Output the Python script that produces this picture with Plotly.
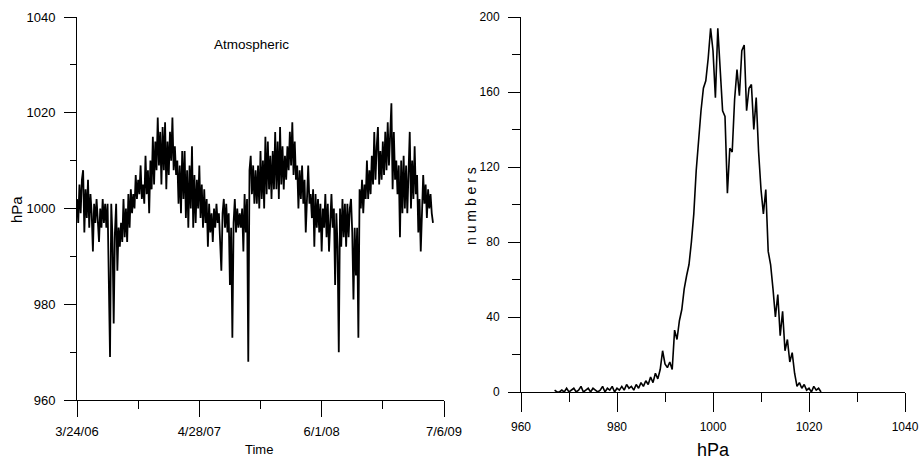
import numpy as np
import pandas as pd
import plotly.graph_objects as go

# ---------------- data ----------------
start_date = "2006-03-24"
step_days = 4

pressure_2006 = [1002, 997, 1005, 999, 1006, 1008, 995, 1004, 998, 1006, 996,
                 1003, 999, 991, 1001, 997, 1002, 998, 993, 1000, 996,
                 1002, 997, 1001, 996, 1001, 988, 969, 1001, 994, 976, 995, 1001, 987, 996, 992,
                 997, 993, 1002, 994, 1000, 993, 1003, 996, 1004, 999, 1003, 1000, 1007, 1002, 1006,
                 1003, 1009, 1002, 1005, 1001, 1011, 1003, 1008, 999, 1010, 1004, 1015, 1005, 1014, 1008,
                 1019, 1009, 1016, 1005, 1017, 1008, 1018, 1004, 1014, 1007, 1016, 1010, 1019, 1008, 1013]
pressure_2007 = [1007, 1010, 1001, 1009, 999, 1012, 1002, 1012, 998, 1008, 996, 1009, 1000, 1013, 996,
                 1007, 997, 1006, 1000, 1009, 998, 1005, 996, 1004, 997, 1002, 992, 1001, 995, 999,
                 993, 1000, 996, 1001, 997, 999, 994, 987, 999, 1002, 996, 1001, 995, 999, 984,
                 996, 973, 997, 1002, 995, 1000, 996, 999, 996, 1000, 991, 1003, 995, 1002, 968,
                 1008, 1011, 1003, 1009, 1001, 1008, 1001, 1009, 1000, 1012, 1002, 1010, 1000, 1015, 1003]
pressure_2008 = [1014, 1004, 1011, 1002, 1012, 1004, 1016, 1004, 1014, 1002, 1017, 1005, 1013, 1004, 1011,
                 1006, 1013, 1008, 1016, 1009, 1018, 1007, 1014, 1006, 1009, 1000, 1008, 1002, 1009, 1001,
                 1006, 995, 1005, 1009, 1001, 1003, 998, 1004, 992, 1003, 996, 1002, 995, 1001, 991,
                 1000, 996, 1003, 994, 1001, 991, 999, 1003, 996, 1000, 984, 999, 992, 970, 1000,
                 992, 1002, 994, 1001, 992, 1001, 994, 1000, 1002, 995, 981, 996, 986, 996, 973]
pressure_2009 = [1004, 1000, 1006, 999, 1005, 1002, 1010, 1002, 1008, 1003, 1011, 1005, 1016, 1006, 1013,
                 1017, 1005, 1012, 1006, 1014, 1007, 1016, 1008, 1018, 1009, 1016, 1022, 1004, 1016, 1006,
                 1010, 1003, 1009, 994, 1010, 999, 1011, 1000, 1009, 999, 1008, 1016, 1000, 1010, 1002,
                 1013, 1003, 1007, 995, 1002, 991, 1000, 1007, 1001, 1005, 998, 1004, 1000, 1003, 999, 997]

hist_start = 967.0
hist_step = 0.5
hist_counts = [1, 0, 0, 1, 0, 2, 0, 1, 2, 0, 1, 3, 0, 1, 2, 0, 2, 1, 0, 1,
               3, 0, 2, 1, 3, 0, 2, 1, 3, 1, 4, 2, 3, 1, 4, 2, 5, 3, 6, 4,
               8, 5, 10, 7, 12, 22, 15, 13, 16, 12, 33, 28, 38, 44, 55, 62, 68, 80, 95, 118,
               135, 150, 162, 166, 178, 194, 182, 157, 194, 172, 150, 147, 106, 130, 128, 156,
               172, 158, 182, 185, 150, 162, 164, 140, 157, 128, 108, 95, 108, 75, 68, 55,
               40, 52, 30, 43, 22, 28, 16, 21, 10, 3, 5, 2, 4, 1, 2, 0, 3, 1, 2, 0]

time_tick_vals = ["2006-03-24", "2007-04-28", "2008-06-01", "2009-07-06"]
time_tick_text = ["3/24/06", "4/28/07", "6/1/08", "7/6/09"]
time_minor_vals = ["2006-10-10", "2007-11-14", "2008-12-18"]

# ---------------- build ----------------
pressure = pressure_2006 + pressure_2007 + pressure_2008 + pressure_2009
dates = pd.date_range(start_date, periods=len(pressure), freq=f"{step_days}D")
hist_x = hist_start + hist_step * np.arange(len(hist_counts))

W, H = 919, 462
def px(x):
    return x / W
def py(y):
    return 1 - y / H

fig = go.Figure()
fig.add_trace(go.Scatter(x=dates, y=pressure, mode="lines",
                         line=dict(color="black", width=1.8),
                         xaxis="x", yaxis="y", showlegend=False, hoverinfo="skip"))
fig.add_trace(go.Scatter(x=hist_x, y=hist_counts, mode="lines",
                         line=dict(color="black", width=1.6),
                         xaxis="x2", yaxis="y2", showlegend=False, hoverinfo="skip"))

font_reg = "Liberation Sans, Arial, sans-serif"
font_nar = "Liberation Sans Narrow, Arial Narrow, Liberation Sans, Arial, sans-serif"

common = dict(showgrid=False, zeroline=False, showline=True, linecolor="black",
              linewidth=1, ticks="outside", tickcolor="black", tickwidth=1,
              automargin=False, ticklabeloverflow="allow")

fig.update_layout(
    width=W, height=H,
    margin=dict(l=0, r=0, t=0, b=0, pad=0, autoexpand=False),
    paper_bgcolor="white", plot_bgcolor="white",
    showlegend=False,
    xaxis=dict(domain=[px(77), px(444)], anchor="y", type="date",
               range=[time_tick_vals[0], time_tick_vals[-1]],
               tickmode="array", tickvals=time_tick_vals, ticktext=time_tick_text,
               ticklen=16, ticklabelstandoff=3,
               minor=dict(ticks="outside", tickmode="array", tickvals=time_minor_vals,
                          ticklen=8, tickcolor="black", tickwidth=1),
               tickfont=dict(family=font_reg, size=13, color="black"), **common),
    yaxis=dict(domain=[py(400), py(17)], anchor="x", range=[960, 1040],
               tickmode="array", tickvals=[960, 980, 1000, 1020, 1040],
               ticklen=12, ticklabelstandoff=6,
               minor=dict(ticks="outside", dtick=10, tick0=960, ticklen=6,
                          tickcolor="black", tickwidth=1),
               tickfont=dict(family=font_reg, size=13, color="black"), **common),
    xaxis2=dict(domain=[px(521), px(905)], anchor="y2", range=[960, 1040],
                tickmode="array", tickvals=[960, 980, 1000, 1020, 1040],
                ticklen=19, ticklabelstandoff=5,
                minor=dict(ticks="outside", dtick=10, tick0=960, ticklen=9,
                           tickcolor="black", tickwidth=1),
                tickfont=dict(family=font_nar, size=12, color="black"), **common),
    yaxis2=dict(domain=[py(392), py(17)], anchor="x2", range=[0, 200],
                tickmode="array", tickvals=[0, 40, 80, 120, 160, 200],
                ticklen=12, ticklabelstandoff=6,
                minor=dict(ticks="outside", dtick=20, tick0=0, ticklen=8,
                           tickcolor="black", tickwidth=1),
                tickfont=dict(family=font_nar, size=12, color="black"), **common),
)

ann = [
    dict(text="Atmospheric", x=px(251), y=py(45), font=dict(family=font_reg, size=13.5)),
    dict(text="Time", x=px(259), y=py(449), font=dict(family=font_reg, size=13)),
    dict(text="hPa", x=px(16), y=py(210), textangle=-90, font=dict(family=font_reg, size=15)),
    dict(text="n u m b e r s", x=px(471), y=py(206), textangle=-90,
         font=dict(family=font_reg, size=14)),
    dict(text="hPa", x=px(713), y=py(450), font=dict(family=font_nar, size=18)),
]
for a in ann:
    a.update(xref="paper", yref="paper", showarrow=False, xanchor="center", yanchor="middle")
    a["font"]["color"] = "black"
fig.update_layout(annotations=ann)

# remove the browser's default page margin so the figure sits at the window origin
fig.write_html("out.html",
               config={"displayModeBar": False, "staticPlot": True},
               post_script="document.body.style.margin='0';document.body.style.overflow='hidden';")
